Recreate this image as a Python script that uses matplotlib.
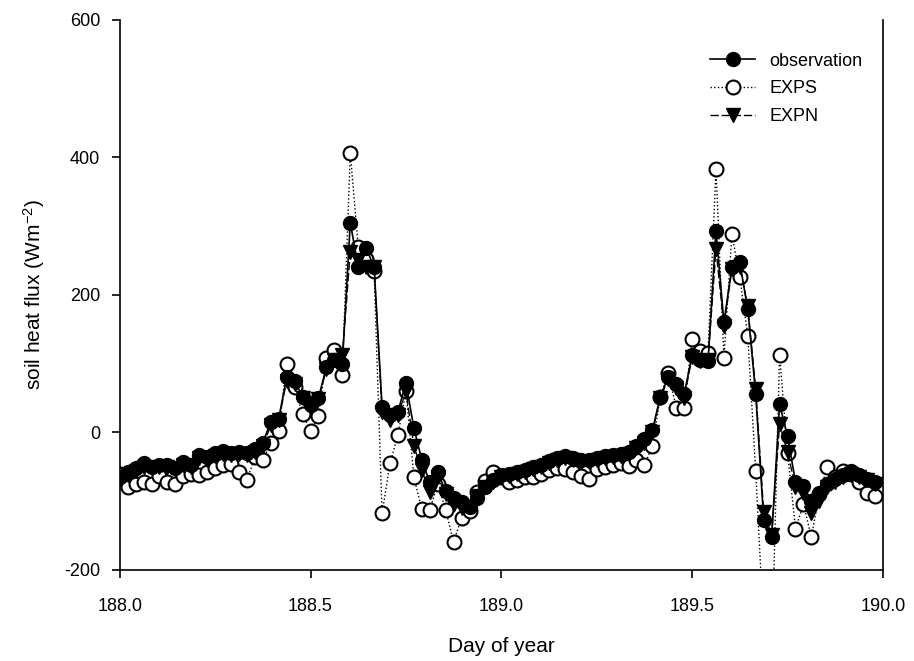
import numpy as np
import matplotlib
matplotlib.use("Agg")
import matplotlib.pyplot as plt

plt.rcParams['font.family'] = ['Liberation Sans', 'DejaVu Sans']
plt.rcParams['axes.unicode_minus'] = False
plt.rcParams['mathtext.default'] = 'regular'

start_day = 188.0
step = 1.0 / 48.0

observation = [
    -65, -58, -52, -45, -50, -47, -48, -52, -43, -48,
    -33, -36, -30, -27, -30, -28, -30, -25, -15, 15,
    20, 80, 75, 52, 40, 50, 95, 105, 100, 305,
    240, 268, 240, 37, 25, 30, 72, 6, -40, -73,
    -58, -86, -95, -102, -108, -95, -80, -70, -62, -60,
    -58, -55, -50, -47, -42, -37, -35, -38, -40, -40,
    -38, -35, -33, -32, -28, -20, -10, 3, 52, 80,
    70, 55, 113, 105, 103, 293, 160, 240, 247, 179,
    55, -127, -153, 41, -6, -72, -78, -100, -88, -75,
    -68, -62, -57, -62, -68, -73,
]

exps = [
    -61, -80, -75, -72, -75, -64, -73, -75, -64, -61,
    -62, -58, -52, -48, -46, -58, -70, -36, -41, -15,
    2, 100, 66, 26, 2, 24, 108, 120, 84, 407,
    269, 252, 234, -118, -45, -4, 60, -65, -112, -113,
    -75, -113, -160, -124, -115, -87, -71, -58, -65, -73,
    -70, -65, -65, -60, -55, -52, -54, -58, -64, -68,
    -54, -50, -48, -45, -49, -40, -48, -20, 52, 86,
    36, 36, 135, 118, 116, 383, 108, 288, 226, 140,
    -57, -285, -330, 113, -30, -140, -105, -152, -90, -50,
    -65, -57, -60, -72, -88, -92,
]

expn = [
    -68, -62, -57, -50, -52, -50, -50, -53, -47, -50,
    -38, -40, -35, -32, -33, -32, -33, -28, -20, 10,
    18, 75, 70, 50, 38, 48, 92, 105, 112, 262,
    250, 240, 240, 30, 18, 25, 60, -20, -55, -87,
    -65, -90, -105, -110, -108, -92, -80, -72, -65, -63,
    -61, -58, -53, -50, -45, -40, -38, -41, -43, -43,
    -41, -38, -36, -35, -31, -23, -15, 0, 50, 78,
    65, 50, 110, 103, 105, 266, 155, 237, 240, 183,
    63, -116, -150, 12, -29, -80, -88, -118, -100, -80,
    -72, -65, -60, -65, -70, -75,
]

xticks = [188.0, 188.5, 189.0, 189.5, 190.0]
yticks = [-200, 0, 200, 400, 600]

days = start_day + step * np.arange(len(observation))

fig = plt.figure(figsize=(9.14, 6.61), dpi=100)
ax = fig.add_axes([0.131, 0.138, 0.835, 0.832])

ax.plot(days, exps, linestyle=':', color='black', linewidth=1.0,
        marker='o', markersize=10, markerfacecolor='white',
        markeredgecolor='black', markeredgewidth=1.5, label='EXPS', zorder=2)
ax.plot(days, expn, linestyle=(0, (6, 2)), color='black', linewidth=1.0,
        marker='v', markersize=10, markerfacecolor='black',
        markeredgecolor='black', label='EXPN', zorder=3)
ax.plot(days, observation, linestyle='-', color='black', linewidth=1.2,
        marker='o', markersize=10, markerfacecolor='black',
        markeredgecolor='black', label='observation', zorder=4)

ax.set_xlim(188.0, 190.0)
ax.set_ylim(-200, 600)
ax.set_xticks(xticks)
ax.set_xticklabels([f"{t:.1f}" for t in xticks])
ax.set_yticks(yticks)
ax.tick_params(axis='both', direction='out', length=6, width=1.2,
               labelsize=13)
ax.tick_params(axis='x', pad=14)
ax.tick_params(axis='y', pad=8, right=False)
ax.spines['top'].set_visible(False)
for s in ['left', 'bottom', 'right']:
    ax.spines[s].set_linewidth(1.2)

ax.set_xlabel('Day of year', fontsize=15, labelpad=16)
ax.set_ylabel('soil heat flux (Wm$^{-2}$)', fontsize=15, labelpad=12)

handles, labels = ax.get_legend_handles_labels()
order = [2, 0, 1]
ax.legend([handles[i] for i in order], [labels[i] for i in order],
          loc='upper right', bbox_to_anchor=(0.995, 0.97), frameon=False,
          fontsize=13, handlelength=2.5, labelspacing=0.6)

fig.savefig('out.png', dpi=100)
